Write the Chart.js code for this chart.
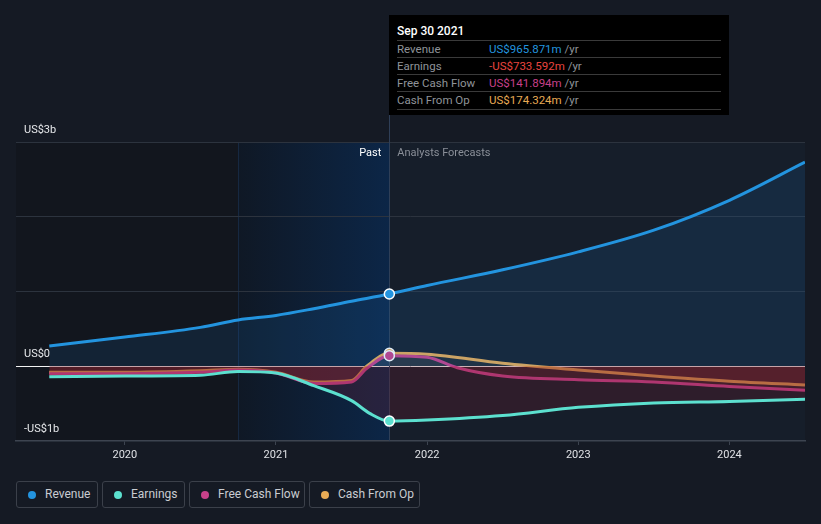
<!DOCTYPE html>
<html>
<head>
<meta charset="utf-8">
<script src="https://cdn.jsdelivr.net/npm/chart.js@4.4.0/dist/chart.umd.min.js"></script>
<style>
  body { margin: 0; background: #151a24; font-family: Roboto, "Noto Sans", sans-serif; }
  #wrap { position: relative; width: 821px; height: 524px; overflow: hidden; }
  #chart-box { position: absolute; left: 0; top: 0; width: 821px; height: 470px; }
  .tip { position: absolute; left: 389px; top: 15px; width: 340px; height: 100px; background: #000; }
  .tip-title { position: absolute; left: 8px; top: 9px; color: #fff; font-size: 12px; font-weight: 500; }
  .tip-row { position: absolute; left: 8px; width: 324px; height: 17px; border-top: 1px solid #3a3a3a; font-size: 11.5px; line-height: 17px; color: #8f9399; }
  .tip-row .v { position: absolute; left: 92px; }
  .legend { position: absolute; top: 481px; height: 25px; border: 1px solid #3b404a; border-radius: 3px; color: #c9ccd1; font-size: 12px; line-height: 25px; box-sizing: content-box; }
  .legend i { position: absolute; left: 11px; top: 9px; width: 8px; height: 8px; border-radius: 50%; }
  .legend span { position: absolute; left: 28px; white-space: nowrap; }
</style>
</head>
<body>
<div id="wrap">
  <div id="chart-box"><canvas id="main-chart"></canvas></div>
  <div class="tip">
    <div class="tip-title">Sep 30 2021</div>
    <div class="tip-row" style="top:25px">Revenue<span class="v"><span style="color:#2394df">US$965.871m</span> /yr</span></div>
    <div class="tip-row" style="top:42px">Earnings<span class="v"><span style="color:#e8453f">-US$733.592m</span> /yr</span></div>
    <div class="tip-row" style="top:59px">Free Cash Flow<span class="v"><span style="color:#c8418a">US$141.894m</span> /yr</span></div>
    <div class="tip-row" style="top:76px; border-bottom:1px solid #3a3a3a">Cash From Op<span class="v"><span style="color:#e8ab55">US$174.324m</span> /yr</span></div>
  </div>
  <div class="legend" style="left:16px; width:80px"><i style="background:#2394df"></i><span>Revenue</span></div>
  <div class="legend" style="left:102px; width:81px"><i style="background:#5ce0cf"></i><span>Earnings</span></div>
  <div class="legend" style="left:189px; width:114px"><i style="background:#c8418a"></i><span>Free Cash Flow</span></div>
  <div class="legend" style="left:309px; width:109px"><i style="background:#e8ab55"></i><span>Cash From Op</span></div>
</div>
<script>
// 数据 (单位: 十亿美元, x 为年份小数)
const revenueDates = [2019.5, 2020, 2020.5, 2020.75, 2021, 2021.25, 2021.5, 2021.75, 2022, 2022.5, 2023, 2023.5, 2024, 2024.5];
const revenueValues = [0.27, 0.39, 0.52, 0.62, 0.68, 0.77, 0.87, 0.966, 1.08, 1.29, 1.53, 1.82, 2.22, 2.73];

const earningsDates = [2019.5, 2020, 2020.5, 2020.75, 2021, 2021.25, 2021.5, 2021.62, 2021.75, 2022, 2022.5, 2023, 2023.5, 2024, 2024.5];
const earningsValues = [-0.14, -0.13, -0.12, -0.07, -0.09, -0.26, -0.46, -0.63, -0.734, -0.72, -0.66, -0.55, -0.49, -0.47, -0.44];

const fcfDates = [2019.5, 2020, 2020.5, 2020.75, 2021, 2021.25, 2021.5, 2021.6, 2021.75, 2022, 2022.2, 2022.5, 2023, 2023.5, 2024, 2024.5];
const fcfValues = [-0.10, -0.10, -0.08, -0.05, -0.09, -0.23, -0.21, -0.03, 0.142, 0.12, -0.02, -0.13, -0.18, -0.21, -0.27, -0.32];

const cfoDates = [2019.5, 2020, 2020.5, 2020.75, 2021, 2021.25, 2021.5, 2021.6, 2021.75, 2022, 2022.5, 2023, 2023.5, 2024, 2024.5];
const cfoValues = [-0.08, -0.08, -0.06, -0.04, -0.08, -0.21, -0.19, 0.0, 0.174, 0.16, 0.04, -0.05, -0.13, -0.20, -0.25];

const xTicks = [2020, 2021, 2022, 2023, 2024];
const yLabels = [{ value: 3, text: 'US$3b' }, { value: 0, text: 'US$0' }, { value: -1, text: '-US$1b' }];
const pastStart = 2020.75;
const nowDate = 2021.75;

function toPoints(dates, values) {
    return dates.map((d, i) => ({ x: d, y: values[i] }));
}

function markerRadius(dates) {
    return dates.map(d => d === nowDate ? 5 : 0);
}

// 背景、标签、分隔线
const decorPlugin = {
    id: 'decor',
    beforeDraw(chart) {
        const { ctx, chartArea: a, scales: { x } } = chart;
        const xs = x.getPixelForValue(pastStart);
        const xn = x.getPixelForValue(nowDate);
        ctx.save();
        ctx.fillStyle = '#12161e';
        ctx.fillRect(a.left, a.top, xs - a.left, a.bottom - a.top);
        const g = ctx.createLinearGradient(xs, 0, xn, 0);
        g.addColorStop(0, '#0f1825');
        g.addColorStop(1, '#0c2647');
        ctx.fillStyle = g;
        ctx.fillRect(xs, a.top, xn - xs, a.bottom - a.top);
        ctx.fillStyle = '#161e2a';
        ctx.fillRect(xn, a.top, a.right - xn, a.bottom - a.top);
        ctx.strokeStyle = 'rgba(30,55,95,0.5)';
        ctx.lineWidth = 1;
        ctx.beginPath();
        ctx.moveTo(Math.round(xs) + 0.5, a.top);
        ctx.lineTo(Math.round(xs) + 0.5, a.bottom);
        ctx.stroke();
        ctx.restore();
    },
    beforeDatasetsDraw(chart) {
        const { ctx, chartArea: a, scales: { x, y } } = chart;
        const xn = x.getPixelForValue(nowDate);
        ctx.save();
        ctx.strokeStyle = '#2f3f57';
        ctx.lineWidth = 1;
        ctx.beginPath();
        ctx.moveTo(Math.round(xn) + 0.5, 15);
        ctx.lineTo(Math.round(xn) + 0.5, a.bottom);
        ctx.stroke();

        ctx.font = '11px Roboto, sans-serif';
        ctx.textBaseline = 'middle';
        ctx.fillStyle = '#ffffff';
        ctx.textAlign = 'right';
        ctx.fillText('Past', xn - 8, a.top + 11);
        ctx.fillStyle = '#8a8f98';
        ctx.textAlign = 'left';
        ctx.fillText('Analysts Forecasts', xn + 8, a.top + 11);

        ctx.fillStyle = '#e6e8eb';
        yLabels.forEach(l => {
            ctx.fillText(l.text, a.left + 8, y.getPixelForValue(l.value) - 12);
        });
        ctx.restore();
    }
};

const commonLine = {
    borderWidth: 3,
    pointBorderColor: '#ffffff',
    pointBorderWidth: 1.5,
    pointHoverRadius: 0,
    cubicInterpolationMode: 'monotone'
};

const ctx = document.getElementById('main-chart').getContext('2d');
const mainChart = new Chart(ctx, {
    type: 'line',
    data: {
        datasets: [
            Object.assign({}, commonLine, {
                label: 'Revenue',
                data: toPoints(revenueDates, revenueValues),
                borderColor: '#2394df',
                pointBackgroundColor: '#2394df',
                pointRadius: markerRadius(revenueDates),
                fill: { target: 'origin', above: 'rgba(30,120,200,0.14)', below: 'rgba(0,0,0,0)' }
            }),
            Object.assign({}, commonLine, {
                label: 'Earnings',
                data: toPoints(earningsDates, earningsValues),
                borderColor: '#5ce0cf',
                pointBackgroundColor: '#5ce0cf',
                pointRadius: markerRadius(earningsDates),
                fill: { target: 'origin', above: 'rgba(0,0,0,0)', below: 'rgba(110,30,45,0.28)' }
            }),
            Object.assign({}, commonLine, {
                label: 'Free Cash Flow',
                data: toPoints(fcfDates, fcfValues),
                borderColor: '#c8418a',
                pointBackgroundColor: '#c8418a',
                pointRadius: markerRadius(fcfDates),
                fill: { target: 'origin', above: 'rgba(200,200,210,0.06)', below: 'rgba(150,40,50,0.24)' }
            }),
            Object.assign({}, commonLine, {
                label: 'Cash From Op',
                data: toPoints(cfoDates, cfoValues),
                borderColor: '#e8ab55',
                pointBackgroundColor: '#e8ab55',
                pointRadius: markerRadius(cfoDates),
                fill: { target: 'origin', above: 'rgba(200,200,210,0.06)', below: 'rgba(150,40,50,0.24)' }
            })
        ]
    },
    options: {
        responsive: true,
        maintainAspectRatio: false,
        animation: false,
        layout: { padding: { left: 16, right: 16, top: 142, bottom: 0 } },
        plugins: {
            legend: { display: false },
            tooltip: { enabled: false }
        },
        scales: {
            x: {
                type: 'linear',
                min: 2019.28,
                max: 2024.5,
                afterBuildTicks(scale) {
                    scale.ticks = xTicks.map(v => ({ value: v }));
                },
                afterFit(scale) { scale.height = 29; },
                border: { display: true, color: '#3d4450', width: 1.5 },
                grid: { drawOnChartArea: false, drawTicks: true, tickLength: 4, color: '#3d4450' },
                ticks: {
                    color: '#dfe1e5',
                    font: { size: 11, family: 'Roboto' },
                    padding: 4,
                    maxRotation: 0,
                    callback: v => String(v)
                }
            },
            y: {
                min: -1,
                max: 3,
                afterFit(scale) { scale.width = 0; },
                border: { display: false },
                ticks: { display: false, stepSize: 1 },
                grid: {
                    drawTicks: false,
                    color: c => c.tick.value === 0 ? '#f2f2f2' : (c.tick.value === -1 ? 'rgba(0,0,0,0)' : '#2c333e'),
                    lineWidth: 1
                }
            }
        }
    },
    plugins: [decorPlugin]
});
</script>
</body>
</html>
